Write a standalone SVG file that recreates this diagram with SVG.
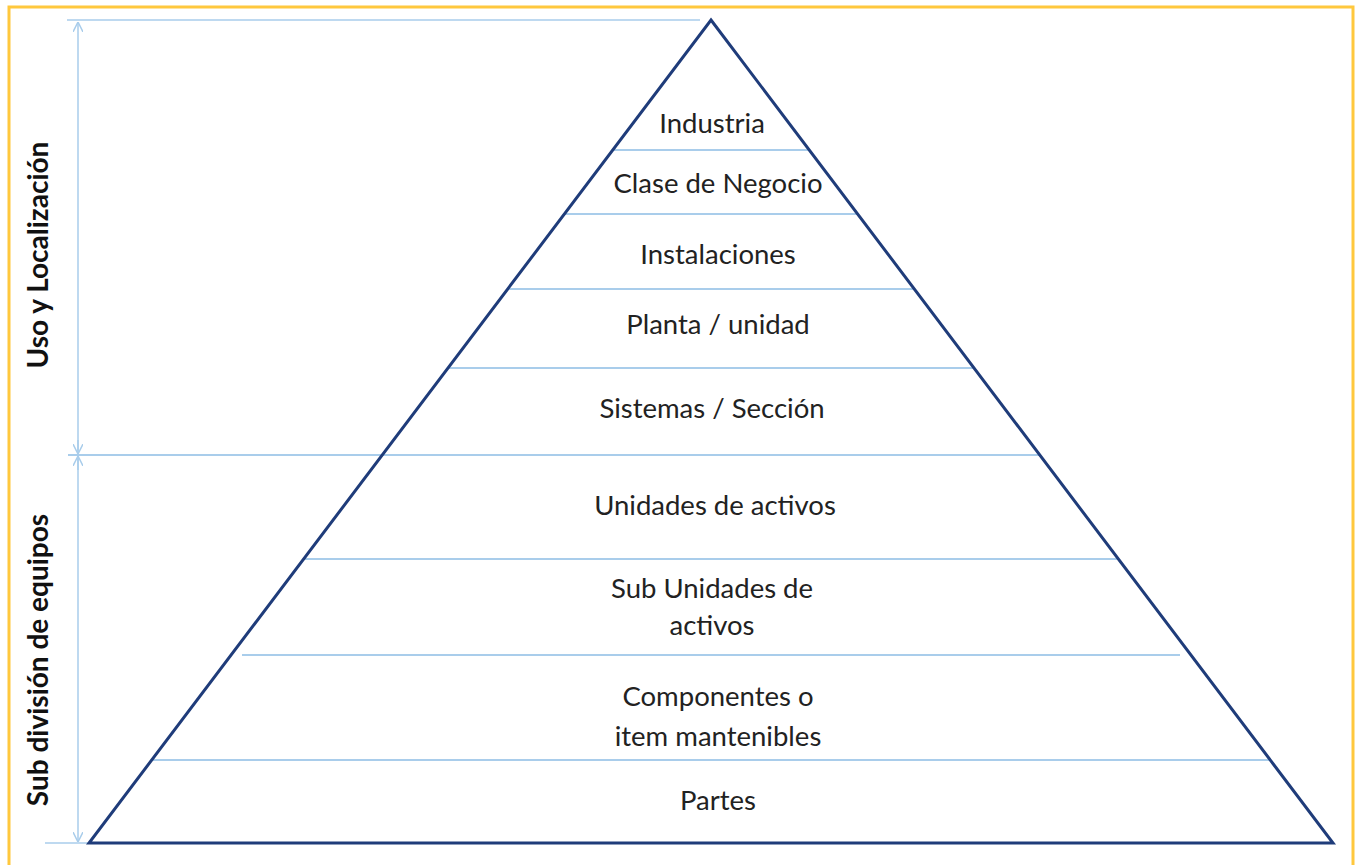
<svg xmlns="http://www.w3.org/2000/svg" width="1357" height="865" viewBox="0 0 1357 865">
<style>
.lvl{font-family:Lato,"Open Sans","Liberation Sans",sans-serif;font-size:27.5px;fill:#222;text-anchor:middle}
.side{font-family:Lato,"Open Sans","Liberation Sans",sans-serif;font-size:28px;font-weight:bold;fill:#111;text-anchor:middle}
.band{stroke:#A9CDEB;stroke-width:2;fill:none}
.dim{stroke:#A9CDEB;stroke-width:1.5;fill:none}
</style>
<defs>
<marker id="ah" viewBox="0 0 10 10" refX="10" refY="5" markerWidth="10" markerHeight="10" orient="auto" markerUnits="userSpaceOnUse">
<path d="M0,0 L10,5 L0,10" fill="none" stroke="#A9CDEB" stroke-width="1.5"/>
</marker>
</defs>
<rect x="0" y="0" width="1357" height="865" fill="#fff"/>
<rect x="9" y="7" width="1344" height="880" fill="none" stroke="#FFC83D" stroke-width="3"/>
<g id="connectors">
<line class="dim" x1="67" y1="20" x2="700" y2="20"/>
<line class="dim" x1="45" y1="843" x2="89" y2="843"/>
<line class="dim" x1="78" y1="452" x2="78" y2="22" marker-end="url(#ah)"/>
<line class="dim" x1="78" y1="440" x2="78" y2="454" marker-end="url(#ah)"/>
<line class="dim" x1="78" y1="470" x2="78" y2="456" marker-end="url(#ah)"/>
<line class="dim" x1="78" y1="458" x2="78" y2="842" marker-end="url(#ah)"/>
<line class="band" x1="68" y1="455" x2="1039" y2="455"/>
<line class="band" x1="613" y1="150" x2="809" y2="150"/>
<line class="band" x1="565" y1="214" x2="857" y2="214"/>
<line class="band" x1="508" y1="289" x2="914" y2="289"/>
<line class="band" x1="449" y1="368" x2="973" y2="368"/>
<line class="band" x1="304" y1="559" x2="1118" y2="559"/>
<line class="band" x1="242" y1="655" x2="1180" y2="655"/>
<line class="band" x1="152" y1="760" x2="1270" y2="760"/>
</g>
<g id="pyramid">
<polygon points="711,20 1333,843 89,843" fill="none" stroke="#1F3C7A" stroke-width="3" stroke-linejoin="miter"/>
</g>
<g id="n-industria"><text class="lvl" x="712" y="133">Industria</text></g>
<g id="n-clase"><text class="lvl" x="718" y="193">Clase de Negocio</text></g>
<g id="n-instalaciones"><text class="lvl" x="718" y="264">Instalaciones</text></g>
<g id="n-planta"><text class="lvl" x="718" y="334">Planta / unidad</text></g>
<g id="n-sistemas"><text class="lvl" x="712" y="418">Sistemas / Sección</text></g>
<g id="n-unidades"><text class="lvl" x="715" y="515">Unidades de activos</text></g>
<g id="n-subunidades"><text class="lvl" x="712" y="598">Sub Unidades de</text><text class="lvl" x="712" y="635">activos</text></g>
<g id="n-componentes"><text class="lvl" x="718" y="706">Componentes o</text><text class="lvl" x="718" y="746">item mantenibles</text></g>
<g id="n-partes"><text class="lvl" x="718" y="810">Partes</text></g>
<g id="n-uso"><text class="side" transform="translate(48,255) rotate(-90)">Uso y Localización</text></g>
<g id="n-sub"><text class="side" transform="translate(48,660) rotate(-90)">Sub división de equipos</text></g>
</svg>
